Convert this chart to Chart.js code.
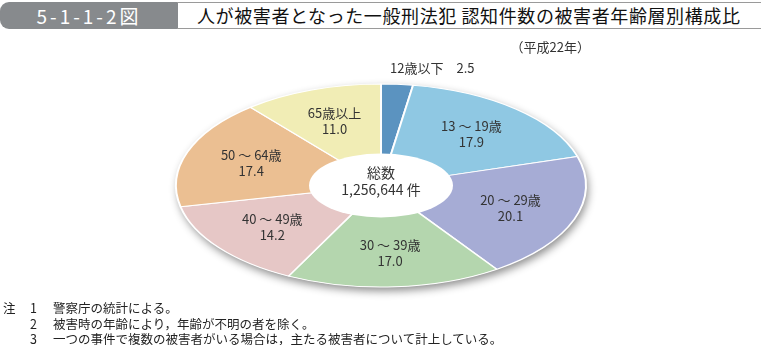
<!DOCTYPE html>
<html lang="ja">
<head>
<meta charset="UTF-8">
<title>5-1-1-2図</title>
<script src="https://cdn.jsdelivr.net/npm/chart.js"></script>
<style>
  html, body { margin: 0; padding: 0; background: #fff; }
  body { width: 761px; height: 345px; position: relative; overflow: hidden;
         font-family: "Noto Sans CJK JP", "Noto Sans", sans-serif; color: #333; }
  #figno { position: absolute; left: 0; top: 2px; width: 178px; height: 27px;
           background: #878a8d; border-radius: 9px 0 0 9px; color: #fff;
           font-size: 19px; line-height: 27px; text-align: center; letter-spacing: 3px; }
  #title { position: absolute; left: 177px; top: 2px; width: 580px; height: 25px;
           border: 1px solid #9a9a9a; border-left: none; border-radius: 0 7px 7px 0;
           font-size: 18px; line-height: 25px; padding-left: 20px; box-sizing: content-box;
           letter-spacing: 0.6px; color: #111; white-space: nowrap; }
  #chart { position: absolute; left: 0; top: 0; }
  #notes { position: absolute; left: 3px; top: 300px; font-size: 12.5px; line-height: 15.5px; color: #222; }
  #notes div { white-space: nowrap; }
  #notes span { display: inline-block; }
  .k { width: 27px; }
  .n { width: 23px; }
</style>
</head>
<body>
<div id="figno">5-1-1-2図</div>
<div id="title">人が被害者となった一般刑法犯 認知件数の被害者年齢層別構成比</div>
<canvas id="chart" width="761" height="345"></canvas>
<div id="notes">
  <div><span class="k">注</span><span class="n">1</span>警察庁の統計による。</div>
  <div><span class="k"></span><span class="n">2</span>被害時の年齢により，年齢が不明の者を除く。</div>
  <div><span class="k"></span><span class="n">3</span>一つの事件で複数の被害者がいる場合は，主たる被害者について計上している。</div>
</div>
<script>
// 年齢層別構成比（％）
const ageGroups = ['12歳以下', '13 ～ 19歳', '20 ～ 29歳', '30 ～ 39歳', '40 ～ 49歳', '50 ～ 64歳', '65歳以上'];
const shares = [2.5, 17.9, 20.1, 17.0, 14.2, 17.4, 11.0];
const sliceColors = ['#5b93c0', '#8fc8e3', '#a6acd5', '#b4d6ae', '#e6c7c6', '#ebbf92', '#f1edb5'];
const totalLabel = ['総数', '1,256,644 件'];
const yearLabel = '（平成22年）';

const SX = 2.02;        // horizontal stretch of the pie
const LABEL_R = 0.67;   // label position as fraction of radius
const FONT = '"Noto Sans CJK JP", sans-serif';

// stretches the round doughnut into an ellipse, with a drop shadow
const ellipsePie = {
  id: 'ellipsePie',
  beforeDatasetsDraw(chart) {
    const ctx = chart.ctx;
    const a = chart.getDatasetMeta(0).data[0];
    ctx.save();
    ctx.shadowColor = 'rgba(0,0,0,0.45)';
    ctx.shadowBlur = 8;
    ctx.shadowOffsetX = 2;
    ctx.shadowOffsetY = 4;
    ctx.beginPath();
    ctx.ellipse(a.x, a.y, a.outerRadius * SX, a.outerRadius, 0, 0, Math.PI * 2);
    ctx.fillStyle = '#fff';
    ctx.fill();
    ctx.restore();
    ctx.save();
    ctx.translate(a.x, a.y);
    ctx.scale(SX, 1);
    ctx.translate(-a.x, -a.y);
  },
  afterDatasetsDraw(chart) {
    const ctx = chart.ctx;
    ctx.restore();
    const arcs = chart.getDatasetMeta(0).data;
    const cx = arcs[0].x, cy = arcs[0].y, R = arcs[0].outerRadius;

    // center hole
    ctx.save();
    ctx.beginPath();
    ctx.ellipse(cx, cy, 72, 32, 0, 0, Math.PI * 2);
    ctx.fillStyle = '#fff';
    ctx.fill();

    ctx.fillStyle = '#333';
    ctx.textAlign = 'center';
    ctx.textBaseline = 'middle';
    ctx.font = '14px ' + FONT;
    ctx.fillText(totalLabel[0], cx, cy - 13);
    ctx.fillText(totalLabel[1], cx, cy + 4);

    ctx.font = '13px ' + FONT;
    arcs.forEach((arc, i) => {
      const val = shares[i].toFixed(1);
      if (i === 0) {
        // small slice: label sits above the ellipse
        ctx.textAlign = 'left';
        ctx.fillText(ageGroups[i] + '　' + val, cx + 9, cy - R - 16);
        ctx.textAlign = 'center';
        return;
      }
      const mid = (arc.startAngle + arc.endAngle) / 2;
      const x = cx + Math.cos(mid) * R * LABEL_R * SX;
      const y = cy + Math.sin(mid) * R * LABEL_R;
      ctx.fillText(ageGroups[i], x, y - 8);
      ctx.fillText(val, x, y + 8);
    });

    ctx.textAlign = 'right';
    ctx.fillText(yearLabel, 590, 47);
    ctx.restore();
  }
};

new Chart(document.getElementById('chart'), {
  type: 'doughnut',
  data: {
    labels: ageGroups,
    datasets: [{
      data: shares,
      backgroundColor: sliceColors,
      borderColor: '#fff',
      borderWidth: 1,
      radius: 101.5,
      cutout: 30
    }]
  },
  options: {
    responsive: false,
    animation: false,
    layout: { padding: { left: 279, right: 278, top: 84, bottom: 58 } },
    plugins: { legend: { display: false }, tooltip: { enabled: false } }
  },
  plugins: [ellipsePie]
});
</script>
</body>
</html>
